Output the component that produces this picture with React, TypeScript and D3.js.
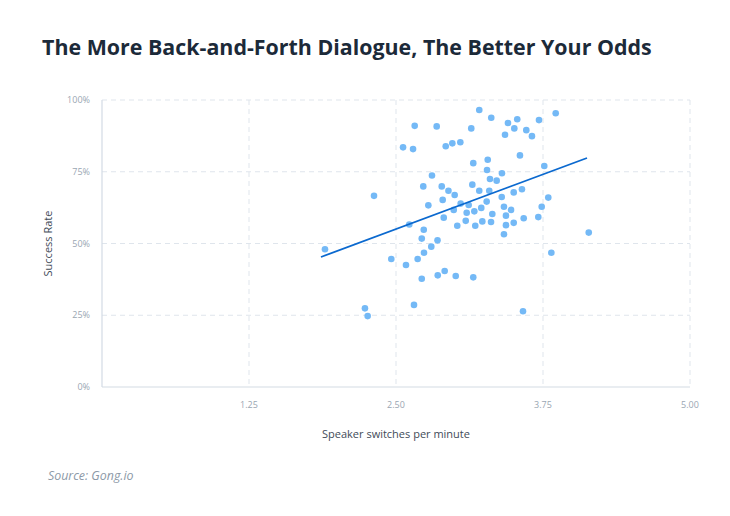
import React from "react";
import * as d3 from "d3";

const title = "The More Back-and-Forth Dialogue, The Better Your Odds";
const xTicks = [1.25, 2.5, 3.75, 5.0];
const yTicks = [0, 25, 50, 75, 100];
const switchesPerMinute = [
  1.896, 2.313, 2.236, 2.259, 2.46, 2.56, 2.585, 2.613, 2.645, 2.659, 2.653, 2.684, 2.719, 2.719, 2.736,
  2.732, 2.738, 2.775, 2.8, 2.806, 2.846, 2.853, 2.855, 2.889, 2.897, 2.906, 2.914, 2.923, 2.946, 2.979,
  2.991, 2.999, 3.008, 3.021, 3.047, 3.05, 3.093, 3.101, 3.118, 3.14, 3.149, 3.157, 3.157, 3.166, 3.174,
  3.208, 3.208, 3.225, 3.234, 3.271, 3.274, 3.28, 3.293, 3.299, 3.308, 3.31, 3.319, 3.356, 3.399, 3.401,
  3.418, 3.418, 3.427, 3.435, 3.435, 3.452, 3.478, 3.501, 3.501, 3.506, 3.531, 3.554, 3.571, 3.58, 3.586,
  3.608, 3.656, 3.71, 3.716, 3.739, 3.761, 3.795, 3.821, 3.858, 4.139,
];
const successRate = [
  48.0, 66.6, 27.4, 24.7, 44.6, 83.5, 42.5, 56.6, 82.9, 91.0, 28.6, 44.6, 51.7, 37.7, 54.8,
  69.9, 46.8, 63.3, 48.9, 73.7, 90.8, 51.1, 38.9, 69.9, 65.2, 59.0, 40.4, 83.9, 68.4, 84.9,
  61.7, 66.9, 38.7, 56.2, 85.3, 63.9, 57.9, 60.7, 63.4, 90.1, 70.5, 78.0, 38.2, 61.2, 56.2,
  96.5, 68.4, 62.4, 57.7, 64.6, 75.6, 79.2, 68.4, 72.5, 57.5, 93.8, 60.3, 71.9, 66.2, 74.5,
  62.8, 53.2, 87.9, 59.7, 56.4, 92.0, 61.7, 67.8, 57.2, 90.1, 93.3, 80.7, 68.9, 26.4, 58.8,
  89.5, 87.4, 59.2, 93.0, 62.8, 77.0, 66.0, 46.8, 95.4, 53.8,
];
const trendX = [1.862, 4.124];
const trendY = [45.3, 79.8];

export default function App() {
  const W = 730, H = 516;
  const x = d3.scaleLinear().domain([0, 5]).range([102, 690]);
  const y = d3.scaleLinear().domain([0, 100]).range([387, 100]);
  const grid = "#dfe5ec";
  const axis = "#d3dbe4";
  const font = "'Open Sans', sans-serif";
  const line = d3.line<number>().x((d, i) => x(trendX[i])).y((d, i) => y(trendY[i]));
  return (
    <svg width={W} height={H} style={{ position: "absolute", left: 0, top: 0, background: "#fff" }}>
      <text x={42} y={55} fontFamily={font} fontWeight={700} fontSize={21.4} fill="#1c2a39">{title}</text>
      {yTicks.filter(t => t > 0).map(t => (
        <line key={"h" + t} x1={x(0)} x2={x(5)} y1={y(t)} y2={y(t)} stroke={grid} strokeWidth={1} strokeDasharray="5,4" />
      ))}
      {xTicks.map(t => (
        <line key={"v" + t} x1={x(t)} x2={x(t)} y1={y(100)} y2={y(0)} stroke={grid} strokeWidth={1} strokeDasharray="5,4" />
      ))}
      <line x1={x(0)} x2={x(0)} y1={y(100)} y2={y(0)} stroke={axis} strokeWidth={1.2} />
      <line x1={x(0)} x2={x(5)} y1={y(0)} y2={y(0)} stroke={axis} strokeWidth={1.2} />
      {yTicks.map(t => (
        <text key={"yl" + t} x={90} y={y(t) + 3} textAnchor="end" fontFamily={font} fontSize={9} fill="#9aa6b2">{t + "%"}</text>
      ))}
      {xTicks.map(t => (
        <text key={"xl" + t} x={x(t)} y={408} textAnchor="middle" fontFamily={font} fontSize={9} fill="#9aa6b2">{t.toFixed(2)}</text>
      ))}
      <text transform={`translate(52,${y(50)}) rotate(-90)`} textAnchor="middle" fontFamily={font} fontSize={11} fill="#3f4b58">Success Rate</text>
      <text x={x(2.5)} y={438} textAnchor="middle" fontFamily={font} fontSize={11} fill="#3f4b58">Speaker switches per minute</text>
      {switchesPerMinute.map((v, i) => (
        <circle key={i} cx={x(v)} cy={y(successRate[i])} r={3.3} fill="#74b9f6" />
      ))}
      <path d={line(trendX) || ""} stroke="#0b69cf" strokeWidth={1.8} fill="none" />
      <text x={48} y={480} fontFamily={font} fontStyle="italic" fontSize={12.4} fill="#8c99a7">Source: Gong.io</text>
    </svg>
  );
}
